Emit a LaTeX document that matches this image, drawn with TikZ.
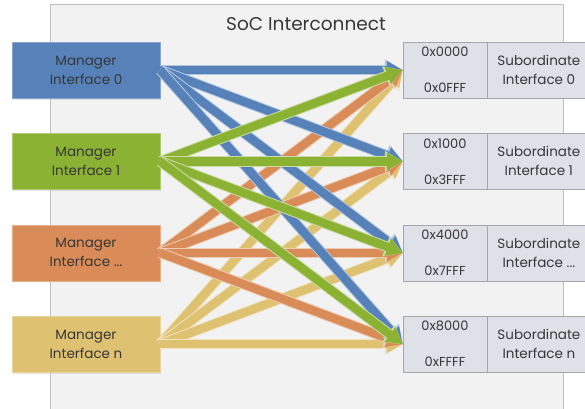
\documentclass[tikz,border=0pt]{standalone}
\usepackage{fontspec}
\setmainfont{Poppins}
\usetikzlibrary{arrows.meta, positioning, shadows}
\definecolor{mblue}{RGB}{86,130,185}
\definecolor{mgreen}{RGB}{140,178,52}
\definecolor{morange}{RGB}{218,140,88}
\definecolor{myellow}{RGB}{222,194,114}
\definecolor{panelgray}{RGB}{242,242,242}
\definecolor{subgray}{RGB}{222,226,232}
\definecolor{txtgray}{RGB}{55,55,55}
\tikzset{>=latex}

\begin{document}
\begin{tikzpicture}[x=1pt, y=-1pt, node distance=35pt,
  mgr/.style={draw=#1!70!white, fill=#1, minimum width=148pt, minimum height=56pt,
    align=center, text=txtgray, font=\fontsize{13.5}{19}\selectfont,
    drop shadow={opacity=0.2, shadow xshift=1pt, shadow yshift=-1.5pt}},
  addr/.style={draw=gray!70, fill=subgray, minimum width=84pt, minimum height=56pt,
    align=center, text=txtgray, font=\fontsize{13}{14}\selectfont},
  sub/.style={draw=gray!70, fill=subgray, minimum width=103pt, minimum height=56pt,
    align=center, text=txtgray, font=\fontsize{13.5}{19}\selectfont},
  link/.style={draw=#1, line width=8.5pt, -{Triangle[length=16pt,width=17pt]},
    preaction={draw=#1!45!white, line width=10.5pt, -{Triangle[length=18pt,width=20pt]}}}]
\useasboundingbox (0,0) rectangle (585,408);

% interconnect panel
\draw[draw=gray!50, fill=panelgray] (50,4) rectangle (563,412);
\node[text=txtgray, font=\fontsize{18.5}{20}\selectfont] (title) at (306,24) {SoC Interconnect};

% managers
\node[mgr=mblue] (m0) at (86,70) {Manager\\Interface 0};
\node[mgr=mgreen, below=of m0] (m1) {Manager\\Interface 1};
\node[mgr=morange, below=of m1] (m2) {Manager\\Interface ...};
\node[mgr=myellow, below=of m2] (m3) {Manager\\Interface n};

% subordinates
\node[addr] (a0) at (445,70) {0x0000\\[22pt]0x0FFF};
\node[addr, below=of a0] (a1) {0x1000\\[22pt]0x3FFF};
\node[addr, below=of a1] (a2) {0x4000\\[22pt]0x7FFF};
\node[addr, below=of a2] (a3) {0x8000\\[22pt]0xFFFF};
\node[sub, right=0pt of a0] (s0) {Subordinate\\Interface 0};
\node[sub, right=0pt of a1] (s1) {Subordinate\\Interface 1};
\node[sub, right=0pt of a2] (s2) {Subordinate\\Interface ...};
\node[sub, right=0pt of a3] (s3) {Subordinate\\Interface n};

% connections
\path
(m3.east)
edge[link=myellow] (a0.west)
edge[link=myellow] (a1.west)
edge[link=myellow] (a2.west)
edge[link=myellow] (a3.west)
;
\path
(m2.east)
edge[link=morange] (a0.west)
edge[link=morange] (a1.west)
edge[link=morange] (a2.west)
edge[link=morange] (a3.west)
;
\path
(m0.east)
edge[link=mblue] (a0.west)
edge[link=mblue] (a1.west)
edge[link=mblue] (a2.west)
edge[link=mblue] (a3.west)
;
\path
(m1.east)
edge[link=mgreen] (a0.west)
edge[link=mgreen] (a1.west)
edge[link=mgreen] (a2.west)
edge[link=mgreen] (a3.west)
;
\end{tikzpicture}
\end{document}
